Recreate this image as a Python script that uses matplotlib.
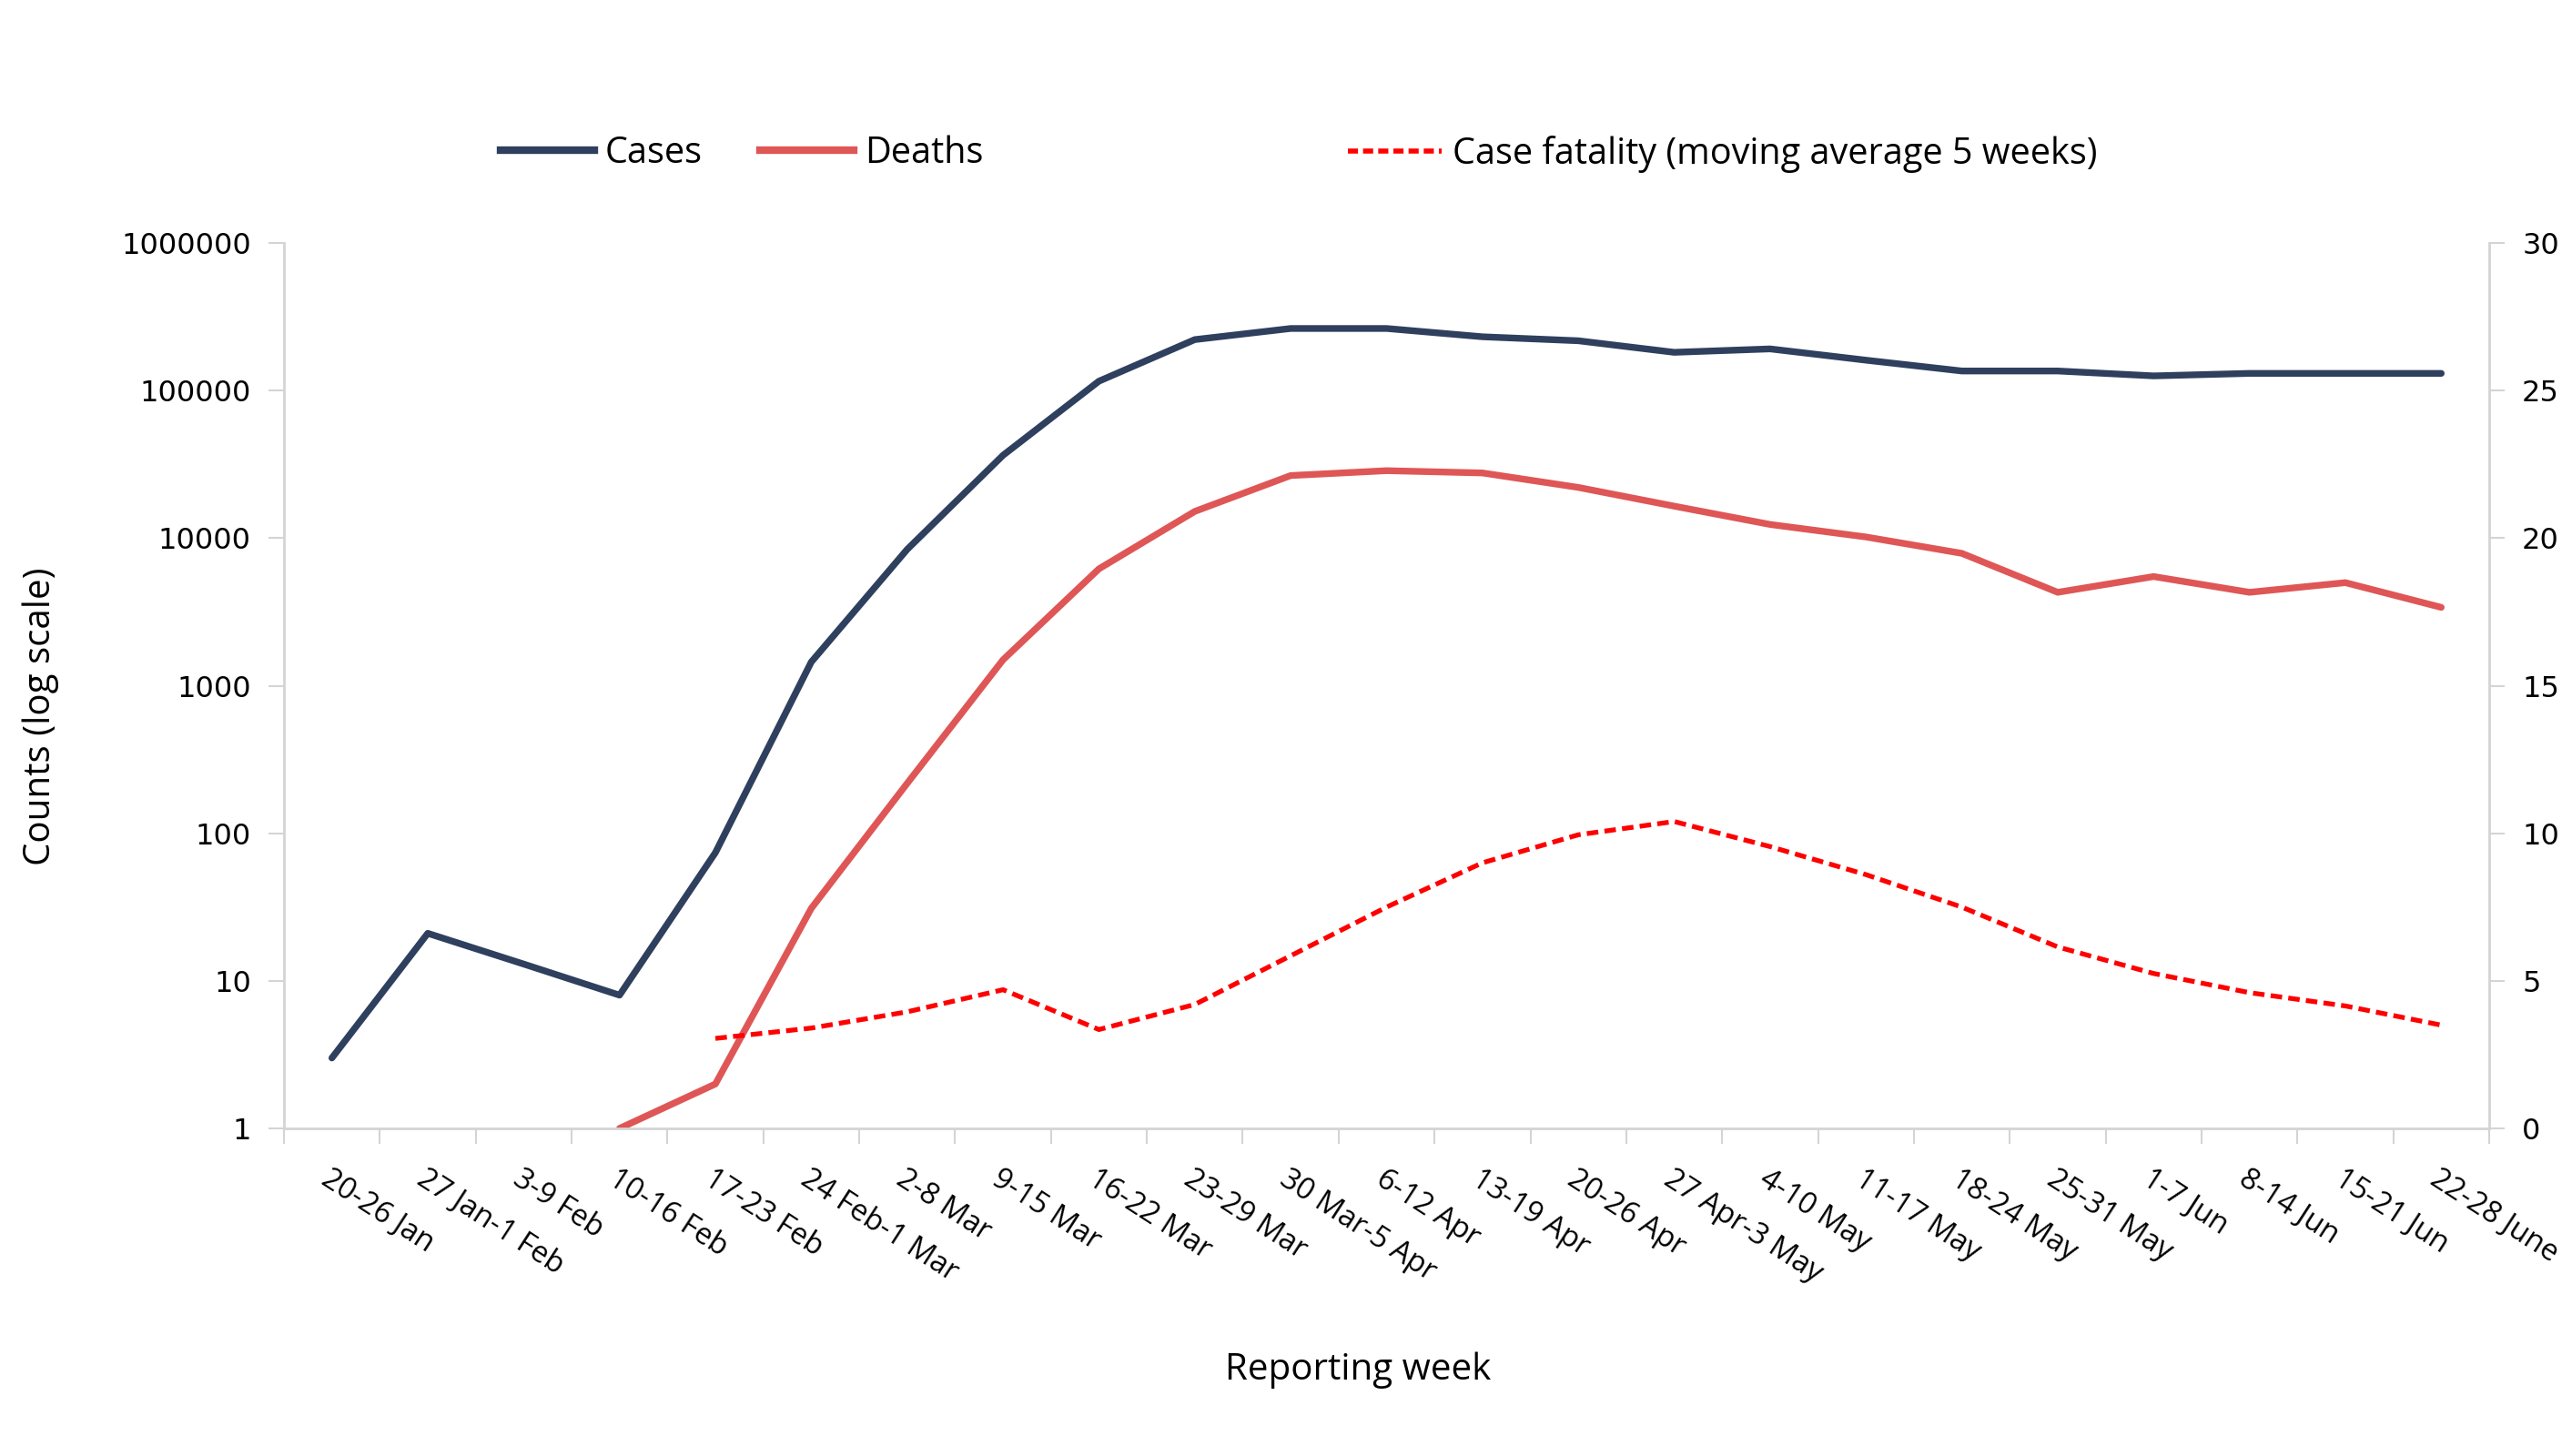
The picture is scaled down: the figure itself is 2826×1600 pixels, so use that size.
import matplotlib
matplotlib.use("Agg")
import matplotlib.pyplot as plt
from matplotlib.lines import Line2D
import numpy as np

weeks = ["20-26 Jan", "27 Jan-1 Feb", "3-9 Feb", "10-16 Feb", "17-23 Feb",
         "24 Feb-1 Mar", "2-8 Mar", "9-15 Mar", "16-22 Mar", "23-29 Mar",
         "30 Mar-5 Apr", "6-12 Apr", "13-19 Apr", "20-26 Apr", "27 Apr-3 May",
         "4-10 May", "11-17 May", "18-24 May", "25-31 May", "1-7 Jun",
         "8-14 Jun", "15-21 Jun", "22-28 June"]

cases = [3, 21, 13, 8, 74, 1450, 8400, 36500, 116000, 222000,
         264000, 264000, 232000, 218000, 182000, 192000, 161000, 136000,
         136000, 126000, 131000, 131000, 131000]

deaths = [np.nan, np.nan, np.nan, 1, 2, 31, 218, 1500, 6200, 15200,
          26600, 28700, 27700, 22100, 16500, 12400, 10200, 7900, 4300,
          5500, 4300, 5000, 3400]

case_fatality = [np.nan, np.nan, np.nan, np.nan, 3.05, 3.4, 3.95, 4.7, 3.35,
                 4.2, 5.85, 7.5, 9.0, 9.95, 10.4, 9.55, 8.6, 7.5, 6.15,
                 5.25, 4.6, 4.15, 3.5]

left_ticks = [1, 10, 100, 1000, 10000, 100000, 1000000]
right_ticks = [0, 5, 10, 15, 20, 25, 30]

C_CASES = "#2F3F5E"
C_DEATHS = "#DF5656"
C_CF = "#FF0000"
GRID = "#D4D4D4"

fig = plt.figure(figsize=(28.26, 16), dpi=100)
ax = fig.add_axes([0.1104, 0.225, 0.8574, 0.608])
ax2 = ax.twinx()

x = np.arange(len(weeks))
ax.plot(x, cases, color=C_CASES, lw=5.3, solid_joinstyle="round", solid_capstyle="round")
ax.plot(x, deaths, color=C_DEATHS, lw=5.3, solid_joinstyle="round", solid_capstyle="round")
ax2.plot(x, case_fatality, color=C_CF, lw=3.8, dashes=(2.4, 1.3))

ax.set_yscale("log")
ax.set_ylim(1, 1000000)
ax.set_xlim(-0.5, len(weeks) - 0.5)
ax2.set_ylim(0, 30)

ax.set_yticks(left_ticks)
ax.set_yticklabels([str(v) for v in left_ticks], fontfamily="DejaVu Sans", fontsize=23)
ax.yaxis.set_minor_locator(matplotlib.ticker.NullLocator())
ax2.set_yticks(right_ticks)
ax2.set_yticklabels([str(v) for v in right_ticks], fontfamily="DejaVu Sans", fontsize=23)

ax.set_xticks(x)
ax.set_xticklabels(weeks, rotation=-33, ha="left", va="top", rotation_mode="anchor",
                   fontfamily="Open Sans", fontsize=23.5)
ax.set_xticks(np.arange(len(weeks) + 1) - 0.5, minor=True)
ax.tick_params(axis="x", which="major", length=0, pad=28)
ax.tick_params(axis="x", which="minor", length=12, width=1.5, color=GRID)
ax.tick_params(axis="y", which="major", length=12, width=1.5, color=GRID, pad=14)
ax2.tick_params(axis="y", which="major", length=12, width=1.5, color=GRID, pad=14)

for a in (ax, ax2):
    a.spines["top"].set_visible(False)
    for s in ("left", "right", "bottom"):
        a.spines[s].set_color(GRID)
        a.spines[s].set_linewidth(2)
ax.spines["right"].set_visible(False)
ax2.spines["left"].set_visible(False)
ax2.spines["bottom"].set_visible(False)

ax.set_ylabel("Counts (log scale)", fontfamily="Open Sans", fontsize=29)
ax.yaxis.set_label_coords(-0.102, 0.465)
fig.text(1492 / 2826, 1 - 1506 / 1600, "Reporting week", ha="center", va="center",
         fontfamily="Open Sans", fontsize=29)

h1 = [Line2D([], [], color=C_CASES, lw=6), Line2D([], [], color=C_DEATHS, lw=6)]
leg1 = fig.legend(h1, ["Cases", "Deaths"], loc="center left",
                  bbox_to_anchor=(550 / 2826, 1 - 169 / 1600), ncol=2, frameon=False,
                  borderpad=0, borderaxespad=0, handlelength=2.6, handletextpad=0.3,
                  columnspacing=1.6, prop={"family": "Open Sans", "size": 28.5})
h2 = [Line2D([], [], color=C_CF, lw=4, dashes=(2.0, 1.0))]
leg2 = fig.legend(h2, ["Case fatality (moving average 5 weeks)"], loc="center left",
                  bbox_to_anchor=(1481 / 2826, 1 - 169 / 1600), frameon=False,
                  borderpad=0, borderaxespad=0, handlelength=2.6, handletextpad=0.3,
                  prop={"family": "Open Sans", "size": 28.5})

fig.savefig("out.png", dpi=100, facecolor="white")
